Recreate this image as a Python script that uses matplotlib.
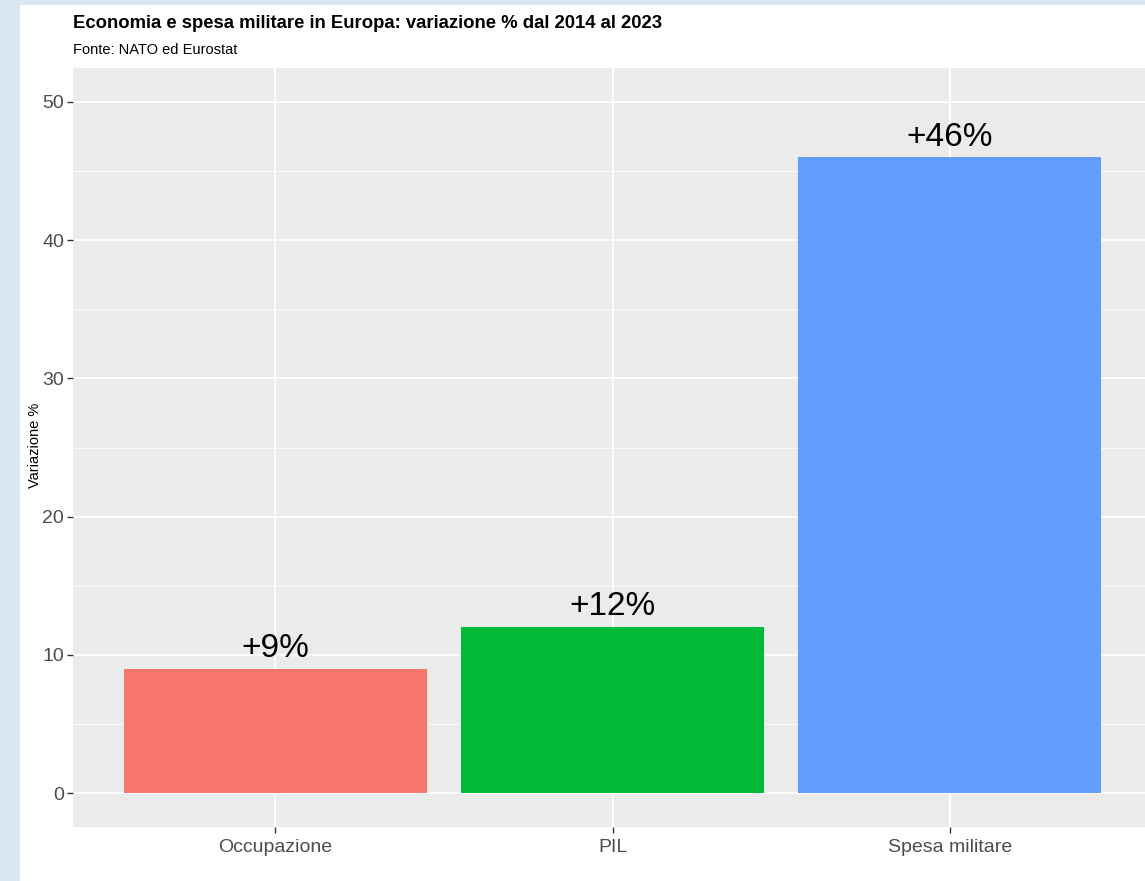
import matplotlib
matplotlib.use("Agg")
import matplotlib.pyplot as plt
from matplotlib.patches import Rectangle
from matplotlib.ticker import MultipleLocator

categories = ["Occupazione", "PIL", "Spesa militare"]
values = [9, 12, 46]
labels = ["+9%", "+12%", "+46%"]
colors = ["#F8766D", "#00BA38", "#619CFF"]

W, H = 1145, 881
fig = plt.figure(figsize=(W/100, H/100), dpi=100)
fig.patch.set_facecolor("#DCE7F4")
fig.add_artist(Rectangle((20/W, 0), 1 - 20/W, 1 - 5/H, transform=fig.transFigure,
                         facecolor="white", edgecolor="none", zorder=-10))

fam = ["Liberation Sans", "DejaVu Sans"]

left, right, top, bottom = 73, 1152, 68, 827
ax = fig.add_axes([left/W, 1 - bottom/H, (right-left)/W, (bottom-top)/H])
ax.set_facecolor("#EBEBEB")
x = list(range(len(categories)))
ax.bar(x, values, width=0.9, color=colors, zorder=3)
for xi, v, lab in zip(x, values, labels):
    ax.text(xi, v + 0.85, lab, ha="center", va="baseline", fontsize=24, color="black",
            family=fam, zorder=4)

ax.set_xlim(-0.6, 2.6)
ax.set_ylim(-2.46, 52.46)
ax.set_xticks(x)
ax.set_xticklabels(categories)
ax.yaxis.set_major_locator(MultipleLocator(10))
ax.yaxis.set_minor_locator(MultipleLocator(5))
ax.grid(which="major", color="white", linewidth=1.3, zorder=0)
ax.grid(which="minor", axis="y", color="white", linewidth=0.6, zorder=0)
ax.set_axisbelow(True)
for s in ax.spines.values():
    s.set_visible(False)
ax.tick_params(axis="both", which="major", length=4, color="#333333", labelcolor="#4D4D4D",
               labelsize=14, width=1, pad=2.5)
ax.tick_params(axis="x", which="major", pad=4.5)
ax.tick_params(axis="y", which="minor", length=0)
for t in ax.get_xticklabels() + ax.get_yticklabels():
    t.set_family(fam)
ax.set_ylabel("Variazione %", fontsize=10.5, family=fam)
ax.yaxis.set_label_coords((42 - left) / (right - left), (827 - 445) / (827 - 68))

fig.text(73/W, 1 - 23/H, "Economia e spesa militare in Europa: variazione % dal 2014 al 2023",
         fontsize=13.3, fontweight="bold", family=fam, va="center", ha="left")
fig.text(73/W, 1 - 50/H, "Fonte: NATO ed Eurostat", fontsize=10.5, family=fam,
         va="center", ha="left")

fig.savefig("out.png", dpi=100)
